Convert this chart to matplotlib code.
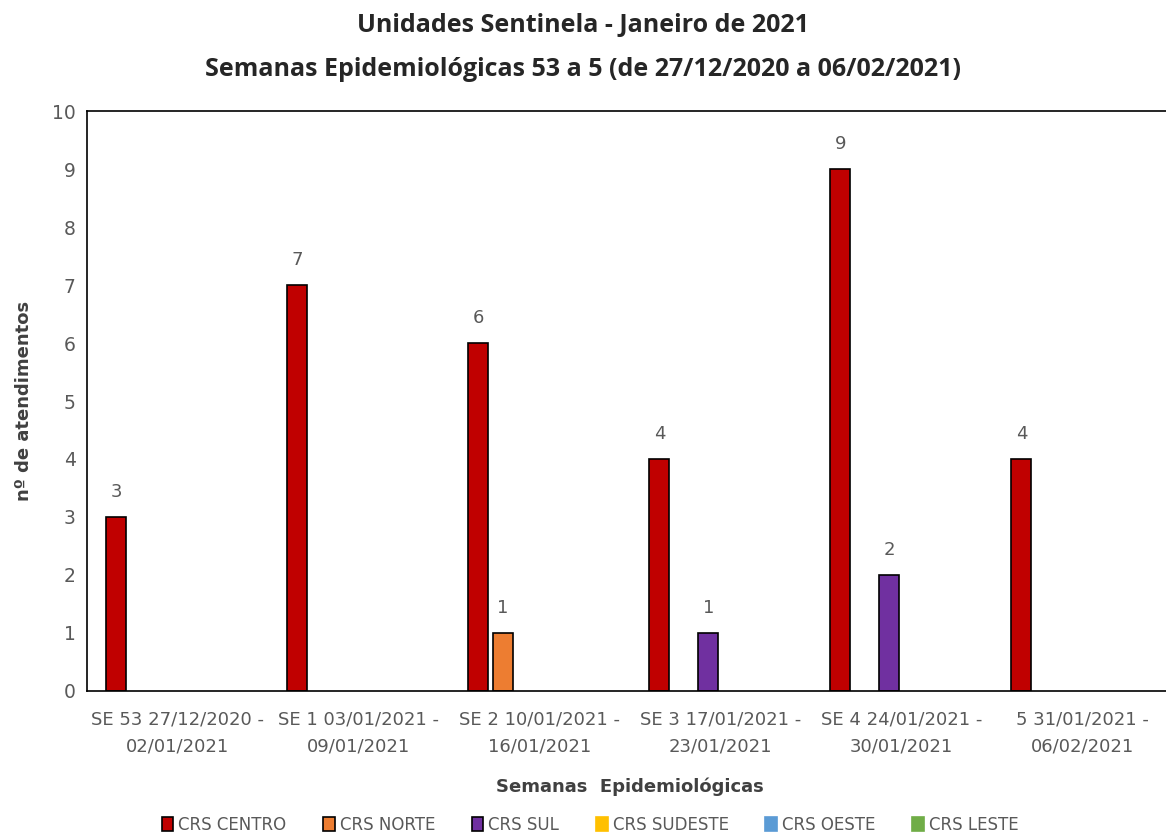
import matplotlib.pyplot as plt
from matplotlib.patches import Patch
import numpy as np

weeks = [
    "SE 53 27/12/2020 -\n02/01/2021",
    "SE 1 03/01/2021 -\n09/01/2021",
    "SE 2 10/01/2021 -\n16/01/2021",
    "SE 3 17/01/2021 -\n23/01/2021",
    "SE 4 24/01/2021 -\n30/01/2021",
    "5 31/01/2021 -\n06/02/2021",
]
regions = ["CRS CENTRO", "CRS NORTE", "CRS SUL", "CRS SUDESTE", "CRS OESTE", "CRS LESTE"]
centro = [3, 7, 6, 4, 9, 4]
norte = [0, 0, 1, 0, 0, 0]
sul = [0, 0, 0, 1, 2, 0]
sudeste = [0, 0, 0, 0, 0, 0]
oeste = [0, 0, 0, 0, 0, 0]
leste = [0, 0, 0, 0, 0, 0]
colors = ["#c00000", "#ed7d31", "#7030a0", "#ffc000", "#5b9bd5", "#70ad47"]

series = [centro, norte, sul, sudeste, oeste, leste]
narrow = ["Liberation Sans Narrow", "DejaVu Sans"]
gray = "#595959"

fig = plt.figure(figsize=(11.66, 8.33), dpi=100)
ax = fig.add_axes([0.0746, 0.1705, 1.006 - 0.0746, 0.8667 - 0.1705])

x = np.arange(len(weeks))
step = 0.135
width = 0.11
handles = []
for k, (vals, col, name) in enumerate(zip(series, colors, regions)):
    pos = x + (k - 2.5) * step
    v = np.array(vals, dtype=float)
    edge = "black" if k < 3 else col
    # empty bars get no outline so nothing shows on the baseline
    lw = [1.2 if val > 0 else 0 for val in vals]
    ax.bar(pos, v, width, color=col, edgecolor=edge, linewidth=lw)
    handles.append(Patch(facecolor=col, edgecolor=edge, linewidth=1.2, label=name))
    for p, val in zip(pos, vals):
        if val > 0:
            ax.text(p, val + 0.28, str(val), ha="center", va="bottom",
                    fontsize=13, color=gray, family=narrow)

ax.set_xlim(-0.5, len(weeks) - 0.5)
ax.set_ylim(0, 10)
ax.set_yticks(range(0, 11))
ax.set_xticks(x)
ax.set_xticklabels(weeks, fontsize=13, color=gray, family=narrow, linespacing=1.65)
ax.tick_params(axis="x", length=0, pad=14)
ax.tick_params(axis="y", length=0, pad=8)
for lab in ax.get_yticklabels():
    lab.set_fontsize(13.5)
    lab.set_color(gray)
    lab.set_family(narrow)
for sp in ax.spines.values():
    sp.set_linewidth(1.2)

ax.set_ylabel("nº de atendimentos", fontsize=13, fontweight="bold", color="#404040",
              family=narrow, labelpad=14)
ax.set_xlabel("Semanas  Epidemiológicas", fontsize=13, fontweight="bold", color="#404040",
              family=narrow, labelpad=16)

title_font = ["Open Sans", "DejaVu Sans"]
fig.text(0.5, 0.970, "Unidades Sentinela - Janeiro de 2021", ha="center", va="center",
         fontsize=18, fontweight="bold", color="#262626", family=title_font)
fig.text(0.5, 0.916, "Semanas Epidemiológicas 53 a 5 (de 27/12/2020 a 06/02/2021)",
         ha="center", va="center", fontsize=18, fontweight="bold", color="#262626",
         family=title_font)

leg = fig.legend(handles=handles, loc="center", bbox_to_anchor=(0.506, 0.01), ncol=6,
                 frameon=False, handlelength=0.7, handleheight=0.9, handletextpad=0.3,
                 columnspacing=2.2, prop={"family": narrow, "size": 12})
for t in leg.get_texts():
    t.set_color(gray)

fig.savefig("out.png", dpi=100)
